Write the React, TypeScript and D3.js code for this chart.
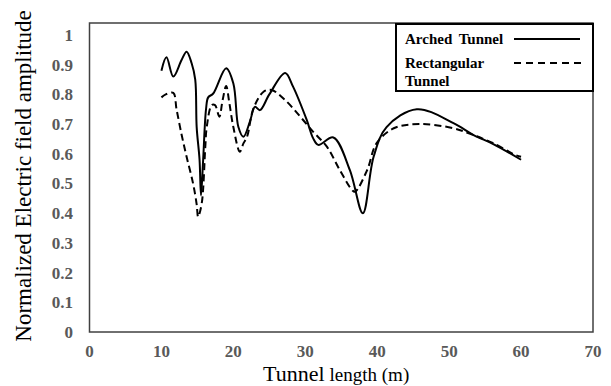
import * as d3 from "d3";

// values
const archedX = [10, 10.7, 11.65, 12.8, 13.5, 14.2, 14.7, 14.9, 15.3, 15.5, 15.8, 16.2, 16.5, 17.2, 19.0, 20.0, 20.7, 21.4, 22.3, 23.0, 23.7, 25.0, 27.2, 28.3, 30.2, 31.1, 31.8, 33.9, 36.2, 38.0, 39.5, 41.3, 45.5, 50.6, 53.4, 56.2, 60];
const archedY = [0.88, 0.925, 0.86, 0.916, 0.944, 0.905, 0.85, 0.69, 0.58, 0.46, 0.58, 0.75, 0.79, 0.803, 0.888, 0.837, 0.69, 0.657, 0.708, 0.758, 0.747, 0.80, 0.872, 0.826, 0.714, 0.652, 0.63, 0.655, 0.545, 0.40, 0.59, 0.69, 0.75, 0.703, 0.663, 0.632, 0.58];

const rectX = [10, 10.6, 11.65, 12.1, 12.8, 13.5, 14.4, 14.9, 15.1, 15.6, 16.1, 16.3, 17.0, 17.45, 18.05, 18.5, 19.0, 19.45, 20.0, 20.9, 21.4, 21.9, 22.8, 24.2, 25.3, 27.2, 29.3, 31.1, 33.0, 34.8, 36.5, 36.9, 38.6, 39.9, 42.3, 46.0, 50.6, 53.4, 56.2, 59.2, 60];
const rectY = [0.79, 0.80, 0.805, 0.75, 0.665, 0.59, 0.50, 0.43, 0.388, 0.433, 0.624, 0.69, 0.764, 0.764, 0.725, 0.78, 0.828, 0.77, 0.69, 0.607, 0.635, 0.657, 0.753, 0.809, 0.815, 0.781, 0.725, 0.674, 0.624, 0.545, 0.478, 0.472, 0.545, 0.635, 0.686, 0.70, 0.686, 0.663, 0.635, 0.596, 0.59];

const xTicks = [0, 10, 20, 30, 40, 50, 60, 70];
const yTicks = [0, 0.1, 0.2, 0.3, 0.4, 0.5, 0.6, 0.7, 0.8, 0.9, 1];

const W = 611;
const H = 386;
const left = 89.5, right = 593, bottom = 332, top = 23;
const serif = "'Liberation Serif', 'Times New Roman', serif";

export default function App() {
    const x = d3.scaleLinear().domain([0, 70]).range([left, right]);
    const y = d3.scaleLinear().domain([0, 1]).range([bottom, 35]);

    const line = d3.line<[number, number]>()
        .x(d => x(d[0]))
        .y(d => y(d[1]))
        .curve(d3.curveCatmullRom.alpha(0.5));

    const arched = archedX.map((v, i) => [v, archedY[i]] as [number, number]);
    const rect = rectX.map((v, i) => [v, rectY[i]] as [number, number]);

    const tickStyle = { fontFamily: serif, fontWeight: 700, fontSize: "17px", fill: "#595959" };

    return (
        <svg width={W} height={H} style={{ position: "absolute", left: 0, top: 0, background: "white" }}>
            <rect x={left} y={top} width={right - left} height={bottom - top} fill="none" stroke="#404040" strokeWidth={1.5} />

            {yTicks.map(t => (
                <text key={t} x={73} y={y(t)} dy="0.35em" textAnchor="end" style={tickStyle}>{t}</text>
            ))}
            {xTicks.map(t => (
                <text key={t} x={x(t)} y={357} textAnchor="middle" style={tickStyle}>{t}</text>
            ))}

            <path d={line(rect) ?? ""} fill="none" stroke="#000" strokeWidth={2} strokeDasharray="7,4" />
            <path d={line(arched) ?? ""} fill="none" stroke="#000" strokeWidth={2} />

            {/* legend */}
            <rect x={396} y={24} width={197} height={67} fill="white" stroke="#000" strokeWidth={2} />
            <g style={{ fontFamily: serif, fontWeight: 700, fontSize: "15px" }} fill="#000">
                <text x={405} y={44} style={{ wordSpacing: "3px" }}>Arched Tunnel</text>
                <text x={405} y={68}>Rectangular</text>
                <text x={405} y={86}>Tunnel</text>
            </g>
            <line x1={514} x2={580} y1={39} y2={39} stroke="#000" strokeWidth={2} />
            <line x1={514} x2={581} y1={63} y2={63} stroke="#000" strokeWidth={2} strokeDasharray="7,5" />

            <text transform="translate(31,176) rotate(-90)" textAnchor="middle"
                style={{ fontFamily: serif, fontSize: "23px" }} fill="#000">
                Normalized Electric field amplitude
            </text>
            <text x={263} y={381} style={{ fontFamily: serif }} fill="#000">
                <tspan style={{ fontSize: "22px" }}>Tunnel</tspan>
                <tspan style={{ fontSize: "19px" }} dx={5}>length (m)</tspan>
            </text>
        </svg>
    );
}
